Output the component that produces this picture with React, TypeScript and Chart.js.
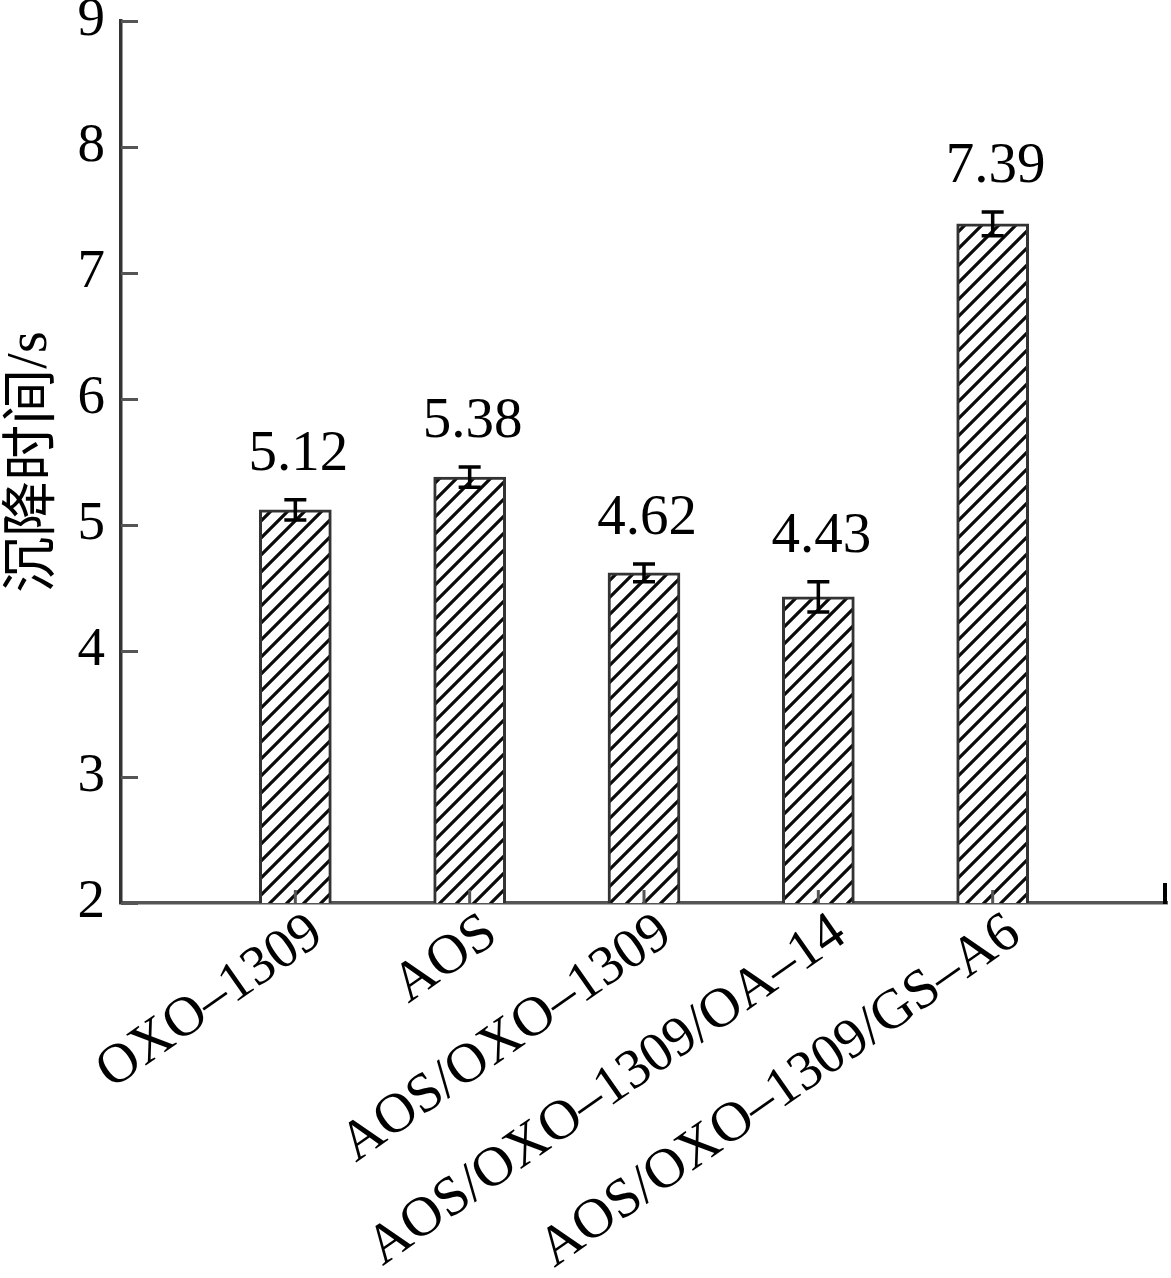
import React, { useEffect, useRef } from 'react';
import { Chart, registerables } from 'chart.js';

Chart.register(...registerables);

// ---- data ----
const categories = ['OXO–1309', 'AOS', 'AOS/OXO–1309', 'AOS/OXO–1309/OA–14', 'AOS/OXO–1309/GS–A6'];
const values = [5.12, 5.38, 4.62, 4.43, 7.39];
const errors = [0.08, 0.08, 0.07, 0.12, 0.095];
const valueLabels = ['5.12', '5.38', '4.62', '4.43', '7.39'];
const yMin = 2;
const yMax = 9;
const yStep = 1;
const yTitleMain = '沉降时间';
const yTitleUnit = '/s';

const W = 1171;
const H = 1278;
const SERIF = '"Liberation Serif", "Times New Roman", serif';

function makePattern(ctx: CanvasRenderingContext2D) {
  const S = 17;
  const tile = document.createElement('canvas');
  tile.width = S;
  tile.height = S;
  const t = tile.getContext('2d')!;
  t.fillStyle = '#ffffff';
  t.fillRect(0, 0, S, S);
  t.strokeStyle = '#0a0a0a';
  t.lineWidth = 3.2;
  t.beginPath();
  t.moveTo(-3, S + 3);
  t.lineTo(S + 3, -3);
  t.moveTo(-3, 3);
  t.lineTo(3, -3);
  t.moveTo(S - 3, S + 3);
  t.lineTo(S + 3, S - 3);
  t.stroke();
  return ctx.createPattern(tile, 'repeat')!;
}

const decor = {
  id: 'decor',
  afterDatasetsDraw(chart: any) {
    const { ctx, chartArea: ca, scales } = chart;
    const y = scales.y;
    const meta = chart.getDatasetMeta(0);
    ctx.save();
    // inward x ticks at bars
    ctx.strokeStyle = '#555555';
    ctx.lineWidth = 3;
    values.forEach((_, i) => {
      const bx = meta.data[i + 1].x;
      ctx.beginPath();
      ctx.moveTo(bx, ca.bottom);
      ctx.lineTo(bx, ca.bottom - 13);
      ctx.stroke();
    });
    // inward y ticks
    for (let v = yMin; v <= yMax; v += yStep) {
      const py = Math.round(y.getPixelForValue(v)) + 0.5;
      ctx.beginPath();
      ctx.moveTo(ca.left, py);
      ctx.lineTo(ca.left + 17, py);
      ctx.stroke();
    }
    // right end tick
    ctx.strokeStyle = '#000000';
    ctx.lineWidth = 4;
    ctx.beginPath();
    ctx.moveTo(ca.right - 2, ca.bottom + 1);
    ctx.lineTo(ca.right - 2, ca.bottom - 20);
    ctx.stroke();
    // error bars + value labels
    values.forEach((v, i) => {
      const bx = meta.data[i + 1].x;
      const yt = y.getPixelForValue(v + errors[i]);
      const yb = y.getPixelForValue(v - errors[i]);
      ctx.strokeStyle = '#000000';
      ctx.lineWidth = 3.5;
      ctx.beginPath();
      ctx.moveTo(bx, yt);
      ctx.lineTo(bx, yb);
      ctx.moveTo(bx - 11, yt);
      ctx.lineTo(bx + 11, yt);
      ctx.moveTo(bx - 11, yb);
      ctx.lineTo(bx + 11, yb);
      ctx.stroke();
      ctx.fillStyle = '#000000';
      ctx.font = `57px ${SERIF}`;
      ctx.textAlign = 'center';
      ctx.textBaseline = 'alphabetic';
      ctx.fillText(valueLabels[i], bx + 3, yt - 30);
    });
    ctx.restore();
  },
  afterDraw(chart: any) {
    const { ctx, chartArea: ca } = chart;
    ctx.save();
    const cy = (ca.top + ca.bottom) / 2;
    const cjk = '56px "Noto Sans CJK SC"';
    const lat = `56px ${SERIF}`;
    ctx.font = cjk;
    const wMain = ctx.measureText(yTitleMain).width;
    ctx.font = lat;
    const wUnit = ctx.measureText(yTitleUnit).width;
    const total = wMain + wUnit;
    ctx.translate(28, cy);
    ctx.rotate(-Math.PI / 2);
    ctx.fillStyle = '#000000';
    ctx.textAlign = 'left';
    ctx.textBaseline = 'middle';
    ctx.font = cjk;
    ctx.fillText(yTitleMain, -total / 2, 0);
    ctx.textBaseline = 'alphabetic';
    ctx.font = lat;
    ctx.fillText(yTitleUnit, -total / 2 + wMain, 18);
    ctx.restore();
  },
};

export default function App() {
  const ref = useRef<HTMLCanvasElement>(null);
  useEffect(() => {
    const canvas = ref.current!;
    const ctx = canvas.getContext('2d')!;
    const pattern = makePattern(ctx);
    const labels = ['', ...categories, ''];
    const data = [null, ...values, null];
    const chart = new Chart(canvas, {
      type: 'bar',
      data: {
        labels,
        datasets: [
          {
            data,
            backgroundColor: pattern,
            borderColor: '#333333',
            borderWidth: 3,
            borderSkipped: 'bottom',
            barThickness: 72,
          },
        ],
      },
      options: {
        responsive: false,
        animation: false,
        devicePixelRatio: 1,
        layout: { padding: { top: 21, right: 4, left: 0, bottom: 0 } },
        plugins: {
          legend: { display: false },
          tooltip: { enabled: false },
          title: { display: false },
        },
        scales: {
          x: {
            type: 'category',
            offset: false,
            grid: { display: false, drawTicks: false },
            border: { display: true, color: '#555555', width: 3.5 },
            ticks: {
              autoSkip: false,
              maxRotation: 35,
              minRotation: 35,
              padding: -3,
              labelOffset: 22,
              color: '#000000',
              font: { family: SERIF, size: 56 },
            },
            afterFit: (s: any) => {
              s.height = 375;
              s.paddingLeft = 0;
              s.paddingRight = 0;
            },
          },
          y: {
            min: yMin,
            max: yMax,
            grid: { display: false, drawTicks: false },
            border: { display: true, color: '#333333', width: 3.5 },
            ticks: {
              stepSize: yStep,
              padding: 16,
              color: '#000000',
              font: { family: SERIF, size: 55 },
            },
            afterFit: (s: any) => {
              s.width = 121;
              s.paddingTop = 0;
              s.paddingBottom = 0;
            },
          },
        },
      },
      plugins: [decor],
    });
    return () => chart.destroy();
  }, []);
  return (
    <div style={{ position: 'absolute', left: 0, top: 0, width: W, height: H, background: '#ffffff' }}>
      <canvas ref={ref} width={W} height={H} style={{ display: 'block' }} />
    </div>
  );
}
